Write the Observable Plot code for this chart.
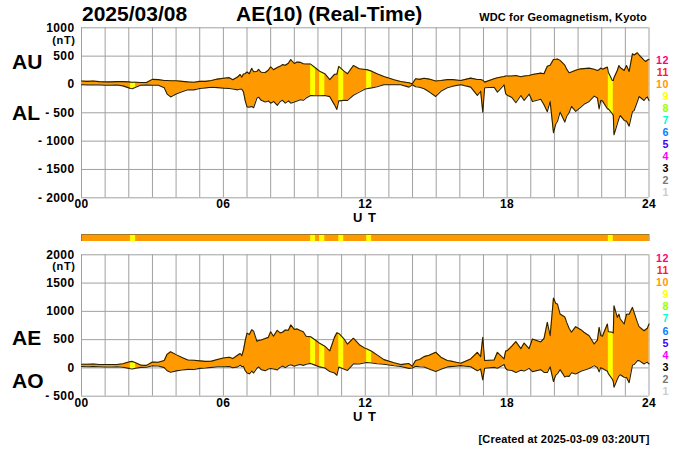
<!DOCTYPE html>
<html><head><meta charset="utf-8">
<script src="https://cdn.jsdelivr.net/npm/d3@7"></script>
<script src="https://cdn.jsdelivr.net/npm/@observablehq/plot@0.6"></script>
<style>
html,body{margin:0;padding:0;background:#fff}
#c{position:relative;width:700px;height:450px;overflow:hidden;font-family:"Liberation Sans",Arial,sans-serif;font-weight:bold;color:#000}
#c svg{position:absolute;left:0}
#c .t{position:absolute;white-space:pre}
</style></head><body><div id="c"></div>
<script>
const hours=[0,.25,.5,.75,1,1.25,1.5,1.75,2,2.07,
2.15,2.29,2.5,2.75,3,3.25,3.5,3.62,3.77,4,
4.25,4.5,4.75,5,5.25,5.5,5.75,6,6.25,6.4,
6.6,6.71,6.78,6.85,6.92,7,7.1,7.2,7.28,7.42,
7.49,7.6,7.77,7.9,8,8.12,8.28,8.4,8.5,8.62,
8.75,8.85,9,9.12,9.25,9.38,9.5,9.69,9.9,10.07,
10.29,10.5,10.7,10.8,10.88,11.09,11.25,11.5,11.75,12,
12.06,12.27,12.5,12.79,13.22,13.5,13.85,13.99,14.13,14.3,
14.49,14.7,14.98,15.2,15.47,15.7,16.04,16.46,16.74,16.88,
16.97,17.05,17.45,17.59,17.87,17.94,18.01,18.2,18.37,18.58,
18.72,18.93,19.07,19.42,19.56,19.7,19.82,19.96,20.06,20.13,
20.24,20.44,20.52,20.62,20.72,20.9,21.12,21.25,21.47,21.68,
21.82,21.89,21.96,22.03,22.24,22.28,22.45,22.49,22.52,22.66,
22.73,22.78,22.95,23.05,23.16,23.3,23.37,23.51,23.58,23.79,
23.86,23.93,24];
const au=[60,55,60,50,45,45,50,50,45,42,
40,40,35,35,90,85,70,70,65,65,
55,45,40,55,55,70,95,110,120,85,
130,176,130,185,190,220,190,285,225,230,
265,215,210,250,310,260,300,320,350,340,
375,440,370,395,390,365,360,360,290,235,
190,85,180,180,320,240,190,335,276,265,
262,235,190,141,82,53,30,12,100,90,
110,95,60,70,85,85,70,112,88,88,
75,41,100,120,141,150,150,150,159,135,
150,159,176,200,190,323,340,440,445,450,
425,340,270,206,220,250,276,280,288,270,
247,260,290,270,306,217,70,70,120,247,
335,300,247,335,229,541,520,559,520,430,
406,430,440];
const al=[-5,-10,-10,-10,-15,-15,-10,-25,-60,-70,
-75,-50,-15,-10,-15,-15,-60,-170,-220,-170,
-130,-95,-95,-70,-60,-50,-55,-65,-70,-80,
-95,-80,-85,-130,-280,-395,-400,-390,-410,-240,
-225,-280,-310,-290,-330,-300,-370,-300,-280,-330,
-290,-330,-310,-290,-270,-280,-240,-195,-200,-200,
-195,-215,-360,-441,-290,-280,-280,-190,-135,-80,
-76,-60,-40,-6,-6,-6,-47,-5,-40,-50,
-76,-130,-212,-120,-59,-30,-6,-47,-194,-120,
-488,-59,-50,-135,-6,-165,-190,-230,-323,-194,
-282,-170,-300,-260,-358,-480,-300,-852,-694,-650,
-488,-664,-560,-500,-388,-476,-400,-350,-300,-206,
-240,-430,-280,-290,-430,-430,-517,-547,-888,-694,
-600,-547,-634,-650,-735,-480,-459,-300,-212,-282,
-240,-220,-282];
const ae=[65,65,70,60,60,60,60,75,105,112,
115,90,50,45,105,100,130,240,285,235,
185,140,135,125,115,120,150,175,190,165,
225,255,215,315,470,615,590,675,650,470,
485,495,520,540,640,560,665,620,630,670,
665,760,680,690,660,640,560,550,490,435,
385,300,540,620,610,520,420,525,410,345,
338,295,230,147,90,59,77,30,130,150,
200,225,277,190,130,115,82,159,276,200,
541,130,140,276,159,300,306,385,465,340,
440,340,512,460,520,805,570,1235,1140,1129,
953,900,805,700,630,729,676,630,570,423,
490,717,575,560,776,640,630,618,1100,894,
950,870,776,950,950,1070,980,805,730,658,
680,700,776];
const ao=[25,22,25,20,15,15,20,12,-8,-14,
-18,-5,10,12,37,35,5,-50,-78,-52,
-38,-25,-27,-8,-2,10,20,22,25,2,
18,48,22,28,-45,-88,-105,-55,-90,-5,
18,-30,-50,-20,-10,-20,-35,10,35,5,
42,55,30,50,60,45,65,80,45,18,
-2,-65,-90,-130,15,-20,-45,72,70,92,
95,88,75,65,38,24,-8,0,30,20,
15,-20,-65,-25,18,28,41,20,-50,-20,
-212,-5,10,-5,59,-10,-35,-45,-80,-40,
-55,-8,-65,-30,-80,-80,20,-241,-125,-100,
-30,-160,-145,-150,-84,-106,-60,-40,-10,41,
5,-70,5,-10,-60,-100,-200,-240,-341,-200,
-140,-120,-165,-170,-260,50,60,129,129,70,
90,100,70];
const lowBands=[[2.07,2.29],[9.69,9.9],[10.07,10.29],[10.88,11.09],[12.06,12.27],[22.28,22.49]];
const stationLabels=["12","11","10","9","8","7","6","5","4","3","2","1"];
const stationColors=["#ff0080","#ff2020","#ff9900","#ffff00","#99ff00","#00ffcc","#0080ff","#4000ff","#ff00ff","#000000","#777777","#cccccc"];
const hourGrid=d3.range(0,25);
const hourTicks=[0,6,12,18,24];
const topTicks=[-2000,-1500,-1000,-500,0,500,1000];
const bottomTicks=[-500,0,500,1000,1500,2000];
const ORANGE="#ff9900",YELLOW="#ffff00",GRID="#a0a0a0",LINE="#2a2000";

const rows=hours.map((h,i)=>({h,au:au[i],al:al[i],ae:ae[i],ao:ao[i]}));
const c=document.getElementById("c");
const fmtY=n=>n<0?"- "+(-n):String(n);
const fmtX=d3.format("02");

function panel(upper,lower,domain,ticks,mt,mb,top){
  const marks=[
    Plot.ruleX(hourGrid,{stroke:GRID,strokeWidth:1}),
    Plot.gridY({ticks,stroke:GRID,strokeOpacity:1,strokeWidth:1}),
    Plot.areaY(rows,{x:"h",y1:lower,y2:upper,fill:ORANGE}),
    ...lowBands.map(([a,b])=>Plot.areaY(rows.filter(r=>r.h>=a&&r.h<=b),{x:"h",y1:lower,y2:upper,fill:YELLOW})),
    Plot.lineY(rows,{x:"h",y:upper,stroke:LINE,strokeWidth:1.1}),
    Plot.lineY(rows,{x:"h",y:lower,stroke:LINE,strokeWidth:1.1}),
    Plot.axisY({ticks,tickFormat:fmtY,tickSize:0,tickPadding:7,label:null}),
    Plot.axisX({ticks:hourTicks,tickFormat:fmtX,tickSize:0,tickPadding:2,label:null})
  ];
  const s=Plot.plot({width:700,height:225,marginLeft:81,marginRight:51.5,marginTop:mt,marginBottom:mb,
    x:{domain:[0,24]},y:{domain},
    style:{background:"transparent",fontFamily:"Liberation Sans",fontWeight:"bold",fontSize:"12px",color:"#000",letterSpacing:"0.4px"},marks});
  s.style.top=top+"px";
  c.appendChild(s);
}
panel("au","al",[-2000,1000],topTicks,27.3,27.7,0);
panel("ae","ao",[-500,2000],bottomTicks,29.3,54.3,225);

const segs=lowBands.map(([a,b])=>({a,b}));
const strip=Plot.plot({width:700,height:7,marginLeft:81,marginRight:51.5,marginTop:0,marginBottom:0,
  x:{domain:[0,24],axis:null},y:{domain:[0,1],axis:null},style:{background:"transparent"},
  marks:[
    Plot.rect([{a:0,b:24}],{x1:"a",x2:"b",y1:0,y2:1,fill:ORANGE}),
    Plot.rect(segs,{x1:"a",x2:"b",y1:0,y2:1,fill:YELLOW}),
    Plot.frame({stroke:"#a07a20",strokeWidth:1})
  ]});
strip.style.top="233.5px";
c.appendChild(strip);

function txt(s,x,base,size,opt={}){
  const d=document.createElement("div");d.className="t";d.textContent=s;
  d.style.fontSize=size+"px";
  d.style.lineHeight=(size*0.9)+"px";
  d.style.top=(base-size*0.7965)+"px";
  if(opt.right!=null){d.style.right=(700-opt.right)+"px";}else d.style.left=x+"px";
  if(opt.color)d.style.color=opt.color;
  if(opt.ls)d.style.letterSpacing=opt.ls+"px";
  c.appendChild(d);
}
txt("2025/03/08",82,22,21);
txt("AE(10) (Real-Time)",236,22,21);
txt("WDC for Geomagnetism, Kyoto",0,21.5,11,{right:647,ls:.15});
txt("AU",12,70,21);
txt("AL",12,120.5,21);
txt("AE",12,345.5,21);
txt("AO",12,389,21);
txt("U T",353,222.6,13,{ls:1});
txt("U T",353,421,13,{ls:1});
txt("(nT)",0,44.4,11,{right:75.5,ls:.6});
txt("(nT)",0,271.2,11,{right:75.5,ls:.6});
txt("[Created at 2025-03-09 03:20UT]",0,444,11,{right:649.5,ls:.15});
stationLabels.forEach((s,i)=>{
  txt(s,0,64.5+i*12,10.7,{right:669,color:stationColors[i],ls:.5});
  txt(s,0,262.5+i*12.1,10.7,{right:669,color:stationColors[i],ls:.5});
});
</script></body></html>
